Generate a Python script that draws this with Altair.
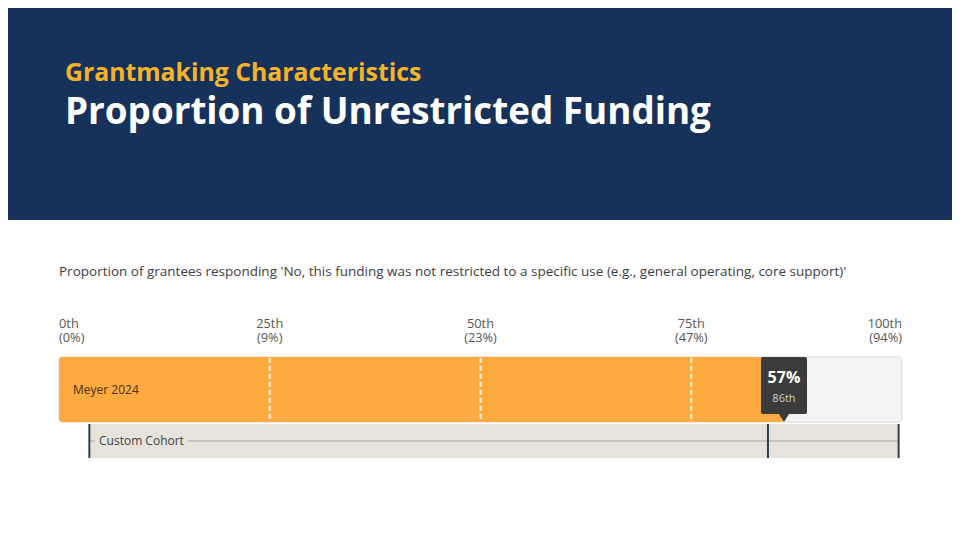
import altair as alt
import pandas as pd

# ---- text content ----
kicker = ["Grantmaking Characteristics"]
title = ["Proportion of Unrestricted Funding"]
question = ["Proportion of grantees responding 'No, this funding was not restricted to a specific use (e.g., general operating, core support)'"]

# ---- percentile axis ----
pct_ticks = [0, 25, 50, 75, 100]
pct_names = ["0th", "25th", "50th", "75th", "100th"]
pct_values = ["(0%)", "(9%)", "(23%)", "(47%)", "(94%)"]
pct_align = ["left", "center", "center", "center", "right"]

# ---- funder result ----
org_name = ["Meyer 2024"]
org_value = ["57%"]
org_pct = [86]
org_pct_label = ["86th"]

# ---- custom cohort ----
cohort_name = ["Custom Cohort"]
cohort_start = [3.6]
cohort_mark = [84.1]
cohort_end = [99.6]

W, H = 944, 524
FONT = "Open Sans"
xs = alt.Scale(domain=[0, 100], range=[51, 894])

one = pd.DataFrame({"k": [0]})
ticks = pd.DataFrame({"pct": pct_ticks, "name": pct_names, "val": pct_values, "align": pct_align})
ticks["label"] = ticks["name"] + "\n" + ticks["val"]
org = pd.DataFrame({"name": org_name, "value": org_value, "pct": org_pct, "pct_label": org_pct_label})
cohort = pd.DataFrame({"name": cohort_name, "start": cohort_start, "mark": cohort_mark, "end": cohort_end})
cohort_lines = pd.DataFrame({"x": cohort_start + cohort_mark + cohort_end})
dashes = pd.DataFrame({"pct": pct_ticks[1:4]})

banner = alt.Chart(one).mark_rect(color="#17325a").encode(
    x=alt.value(0), x2=alt.value(W), y=alt.value(0), y2=alt.value(212))

kicker_t = alt.Chart(pd.DataFrame({"t": kicker})).mark_text(
    align="left", baseline="alphabetic", font=FONT, fontWeight="bold",
    fontSize=24.8, color="#f4b42a").encode(x=alt.value(57), y=alt.value(73), text="t:N")

title_t = alt.Chart(pd.DataFrame({"t": title})).mark_text(
    align="left", baseline="alphabetic", font=FONT, fontWeight="bold",
    fontSize=36.8, color="white").encode(x=alt.value(57), y=alt.value(116), text="t:N")

question_t = alt.Chart(pd.DataFrame({"t": question})).mark_text(
    align="left", baseline="alphabetic", font=FONT, fontSize=13.5,
    color="#404040").encode(x=alt.value(51), y=alt.value(268), text="t:N")

tick_layers = []
for a in ["left", "center", "right"]:
    tick_layers.append(
        alt.Chart(ticks).transform_filter(alt.datum.align == a).mark_text(
            align=a, baseline="alphabetic", font=FONT, fontSize=12.8,
            color="#555555", lineBreak="\n", lineHeight=14.5).encode(
            x=alt.X("pct:Q", scale=xs, axis=None), y=alt.value(319.5), text="label:N"))

bg_bar = alt.Chart(one).mark_rect(fill="#f4f4f4", stroke="#d9d9d9", strokeWidth=1,
                                  cornerRadius=3).encode(
    x=alt.X("a:Q", scale=xs, axis=None), x2="b:Q",
    y=alt.value(349), y2=alt.value(414)).transform_calculate(a="0", b="100")

org_bar = alt.Chart(org).mark_rect(fill="#fdaa40", cornerRadius=3).encode(
    x=alt.X("z:Q", scale=xs, axis=None), x2="pct:Q",
    y=alt.value(349), y2=alt.value(414)).transform_calculate(z="0")

dash_rules = alt.Chart(dashes).mark_rule(color="white", strokeDash=[5, 3],
                                         strokeWidth=2, opacity=0.9).encode(
    x=alt.X("pct:Q", scale=xs, axis=None), y=alt.value(350), y2=alt.value(413))

org_label = alt.Chart(org).mark_text(align="left", baseline="middle", font=FONT,
                                     fontSize=12, color="#4a2f0b").encode(
    x=alt.value(65), y=alt.value(382), text="name:N")

band = alt.Chart(cohort).mark_rect(fill="#e6e3da").encode(
    x=alt.X("start:Q", scale=xs, axis=None), x2="end:Q",
    y=alt.value(416), y2=alt.value(450))

band_line = alt.Chart(cohort).mark_rule(color="#a8a8a0", strokeWidth=1).encode(
    x=alt.X("start:Q", scale=xs, axis=None), x2="end:Q", y=alt.value(433))

band_text_halo = alt.Chart(cohort).mark_text(
    align="left", baseline="middle", font=FONT, fontSize=12,
    color="#e6e3da", stroke="#e6e3da", strokeWidth=9).encode(
    x=alt.value(91), y=alt.value(433), text="name:N")

band_text = alt.Chart(cohort).mark_text(
    align="left", baseline="middle", font=FONT, fontSize=12, color="#444444").encode(
    x=alt.value(91), y=alt.value(433), text="name:N")

cohort_rules = alt.Chart(cohort_lines).mark_rule(color="#2c3e50", strokeWidth=2).encode(
    x=alt.X("x:Q", scale=xs, axis=None), y=alt.value(416), y2=alt.value(450))

tip_path = ("M-0.65,-1 L0.65,-1 Q0.708,-1 0.708,-0.94 L0.708,0.694 Q0.708,0.754 0.65,0.754 "
            "L0.154,0.754 L0,1 L-0.154,0.754 L-0.65,0.754 Q-0.708,0.754 -0.708,0.694 "
            "L-0.708,-0.94 Q-0.708,-1 -0.65,-1 Z")
tip = alt.Chart(org).mark_point(shape=tip_path, size=65 * 65, filled=True,
                                fill="#3b3b3b", opacity=1, strokeWidth=0).encode(
    x=alt.X("pct:Q", scale=xs, axis=None), y=alt.value(381.5))

tip_val = alt.Chart(org).mark_text(align="center", baseline="middle", font=FONT,
                                   fontSize=16, fontWeight="bold", color="white").encode(
    x=alt.X("pct:Q", scale=xs, axis=None), y=alt.value(370), text="value:N")

tip_pct = alt.Chart(org).mark_text(align="center", baseline="middle", font=FONT,
                                   fontSize=11, color="#cfcfcf").encode(
    x=alt.X("pct:Q", scale=xs, axis=None), y=alt.value(391), text="pct_label:N")

chart = alt.layer(
    banner, kicker_t, title_t, question_t, *tick_layers,
    bg_bar, org_bar, dash_rules, org_label,
    band, band_line, band_text_halo, band_text, cohort_rules,
    tip, tip_val, tip_pct
).properties(
    width=W, height=H, autosize=alt.AutoSizeParams(type="none"), padding=0,
    background="white"
).configure_view(stroke=None)

chart.save("out.html", embed_options={"renderer": "svg", "actions": False})
